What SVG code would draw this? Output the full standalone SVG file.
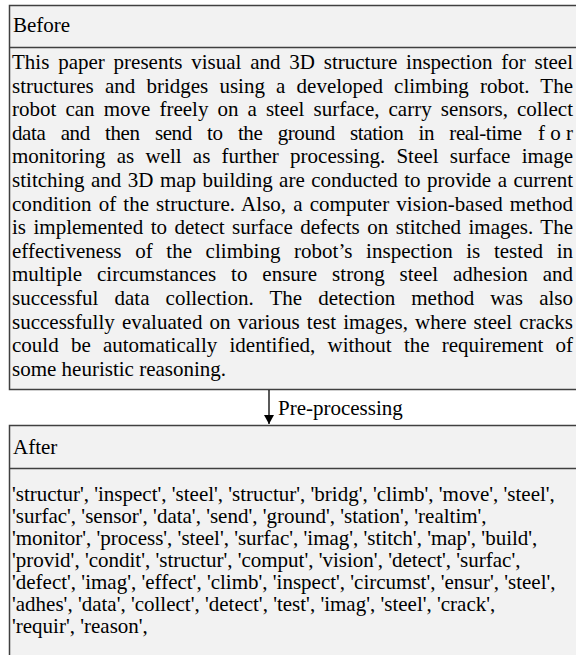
<svg xmlns="http://www.w3.org/2000/svg" width="576" height="655" viewBox="0 0 576 655">
<defs>
<style>
.box{fill:#f2f2f2;stroke:#404040;stroke-width:1.5}
.div{stroke:#404040;stroke-width:1.5}
.t{font-family:"Liberation Serif","Times New Roman",serif;font-size:21px;fill:#000}
.conn{stroke:#000;stroke-width:1.3;fill:none}
</style>
<marker id="ah" markerWidth="10" markerHeight="12" refX="9" refY="5" orient="auto" markerUnits="userSpaceOnUse">
<path d="M0,0 L9,5 L0,10 Z" fill="#000"/>
</marker>
</defs>
<rect width="576" height="655" fill="#fff"/>
<g id="before">
<rect class="box" x="9.5" y="5.5" width="580" height="384"/>
<line class="div" x1="9.5" y1="47.5" x2="590" y2="47.5"/>
<text class="t" x="13" y="32">Before</text>
<text class="t" x="12" y="69" textLength="561" lengthAdjust="spacing" word-spacing="3.5">This paper presents visual and 3D structure inspection for steel</text>
<text class="t" x="12" y="92.6" textLength="561" lengthAdjust="spacing" word-spacing="5.9">structures and bridges using a developed climbing robot. The</text>
<text class="t" x="12" y="116.2" textLength="561" lengthAdjust="spacing" word-spacing="3.8">robot can move freely on a steel surface, carry sensors, collect</text>
<text class="t" x="12" y="139.8" textLength="510" lengthAdjust="spacing" word-spacing="10.4">data and then send to the ground station in real-time</text>
<text class="t" x="573" y="139.8" text-anchor="end">f o r</text>
<text class="t" x="12" y="163.4" textLength="561" lengthAdjust="spacing" word-spacing="6">monitoring as well as further processing. Steel surface image</text>
<text class="t" x="12" y="187" textLength="561" lengthAdjust="spacing" word-spacing="1.2">stitching and 3D map building are conducted to provide a current</text>
<text class="t" x="12" y="210.6" textLength="561" lengthAdjust="spacing" word-spacing="1.8">condition of the structure. Also, a computer vision-based method</text>
<text class="t" x="12" y="234.2" textLength="561" lengthAdjust="spacing" word-spacing="2.2">is implemented to detect surface defects on stitched images. The</text>
<text class="t" x="12" y="257.8" textLength="561" lengthAdjust="spacing" word-spacing="8.3">effectiveness of the climbing robot’s inspection is tested in</text>
<text class="t" x="12" y="281.4" textLength="561" lengthAdjust="spacing" word-spacing="9.6">multiple circumstances to ensure strong steel adhesion and</text>
<text class="t" x="12" y="305" textLength="561" lengthAdjust="spacing" word-spacing="10.8">successful data collection. The detection method was also</text>
<text class="t" x="12" y="328.6" textLength="561" lengthAdjust="spacing" word-spacing="1.9">successfully evaluated on various test images, where steel cracks</text>
<text class="t" x="12" y="352.2" textLength="561" lengthAdjust="spacing" word-spacing="7">could be automatically identified, without the requirement of</text>
<text class="t" x="12" y="375.8">some heuristic reasoning.</text>
</g>
<g id="connectors">
<line class="conn" x1="269" y1="390" x2="269" y2="424" marker-end="url(#ah)"/>
<text class="t" x="278" y="415">Pre-processing</text>
</g>
<g id="after">
<rect class="box" x="9.5" y="425.5" width="580" height="240"/>
<line class="div" x1="9.5" y1="468.5" x2="590" y2="468.5"/>
<text class="t" x="13" y="454">After</text>
<text class="t" x="12" y="501">'structur', 'inspect', 'steel', 'structur', 'bridg', 'climb', 'move', 'steel',</text>
<text class="t" x="12" y="523">'surfac', 'sensor', 'data', 'send', 'ground', 'station', 'realtim',</text>
<text class="t" x="12" y="545">'monitor', 'process', 'steel', 'surfac', 'imag', 'stitch', 'map', 'build',</text>
<text class="t" x="12" y="567">'provid', 'condit', 'structur', 'comput', 'vision', 'detect', 'surfac',</text>
<text class="t" x="12" y="589">'defect', 'imag', 'effect', 'climb', 'inspect', 'circumst', 'ensur', 'steel',</text>
<text class="t" x="12" y="611">'adhes', 'data', 'collect', 'detect', 'test', 'imag', 'steel', 'crack',</text>
<text class="t" x="12" y="633">'requir', 'reason',</text>
</g>
</svg>
